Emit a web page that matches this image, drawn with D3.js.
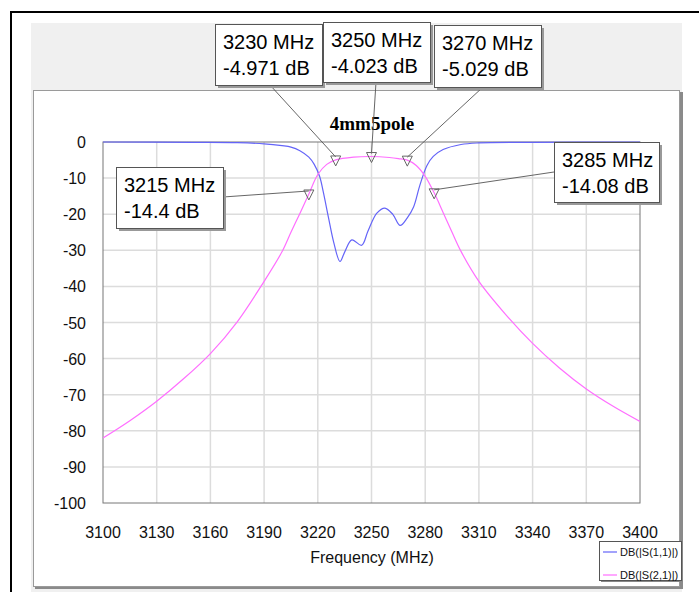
<!DOCTYPE html>
<meta charset="utf-8">
<html>
<head>
<style>
  body { margin: 0; background: #fff; }
  text { font-family: "Liberation Sans", Arial, sans-serif; }
</style>
</head>
<body>
<script src="https://d3js.org/d3.v7.min.js"></script>
<script type="text/javascript">
  // S11 trace (blue)
  var s11Freq = [3100, 3150, 3175, 3190, 3200, 3205, 3210, 3215, 3218, 3221, 3223, 3226, 3229, 3232.4, 3235, 3239,
                 3244.5, 3248, 3253, 3257.5, 3262, 3266, 3270, 3273.5, 3277, 3281, 3284.5, 3290, 3300, 3310, 3340, 3370, 3400];
  var s11dB = [0, -0.1, -0.2, -0.5, -1.0, -1.4, -2.4, -4.2, -6.2, -9.5, -13.7, -21, -28, -33.1, -30.5, -27.1,
               -28.6, -24.7, -19.7, -18.3, -20.1, -23.1, -21, -18, -12, -6.5, -4, -2.1, -0.7, -0.25, -0.08, -0.03, 0];

  // S21 trace (magenta)
  var s21Freq = [3100, 3115, 3130, 3145, 3160, 3175, 3190, 3200, 3205, 3210, 3215, 3220, 3225, 3230, 3240, 3250,
                 3260, 3265, 3270, 3275, 3280, 3285, 3290, 3295, 3300, 3310, 3325, 3340, 3355, 3370, 3385, 3400];
  var s21dB = [-82, -77.2, -71.8, -65.6, -58.6, -49.8, -38.6, -30.4, -25, -19.8, -14.4, -9, -6.2, -4.97, -4.2, -4.02,
               -4.3, -4.6, -5.03, -6.5, -9.5, -14.08, -19.5, -25, -30.3, -38.6, -47.8, -55.8, -62.6, -68.4, -73.2, -77.4];

  // markers on S21
  var markerFreq = [3230, 3250, 3270, 3215, 3285];
  var markerdB = ["-4.971", "-4.023", "-5.029", "-14.4", "-14.08"];

  var xTicks = [3100, 3130, 3160, 3190, 3220, 3250, 3280, 3310, 3340, 3370, 3400];
  var yTicks = [0, -10, -20, -30, -40, -50, -60, -70, -80, -90, -100];

  var seriesNames = ["DB(|S(1,1)|)", "DB(|S(2,1)|)"];
  var seriesColors = ["#6464f8", "#ff6eff"];

  var svg = d3.select("body").append("svg")
      .attr("width", 699).attr("height", 592);

  // outer frame
  svg.append("rect").attr("x", 31).attr("y", 23).attr("width", 651).attr("height", 569).attr("fill", "#f0f0f0");
  svg.append("path").attr("d", "M11,592V12H699").attr("fill", "none").attr("stroke", "#000").attr("stroke-width", 2);

  // white graph panel with shadow
  svg.append("rect").attr("x", 35).attr("y", 92).attr("width", 648).attr("height", 497).attr("fill", "#8a8a8a");
  svg.append("rect").attr("x", 33.5).attr("y", 90.5).attr("width", 646).attr("height", 496)
      .attr("fill", "#fff").attr("stroke", "#9a9a9a");

  var x = d3.scaleLinear().domain([3100, 3400]).range([103, 640]);
  var y = d3.scaleLinear().domain([-100, 0]).range([503, 142]);

  // grid
  svg.append("g").selectAll("line").data(xTicks.slice(1, -1)).enter().append("line")
      .attr("x1", function (d) { return x(d); }).attr("x2", function (d) { return x(d); })
      .attr("y1", y(0)).attr("y2", y(-100))
      .attr("stroke", "#dcdcdc").attr("stroke-width", 1.5);
  svg.append("g").selectAll("line").data(yTicks.slice(1, -1)).enter().append("line")
      .attr("y1", function (d) { return y(d); }).attr("y2", function (d) { return y(d); })
      .attr("x1", x(3100)).attr("x2", x(3400))
      .attr("stroke", "#dcdcdc").attr("stroke-width", 1.5);

  // plot frame
  svg.append("rect").attr("x", x(3100)).attr("y", y(0))
      .attr("width", x(3400) - x(3100)).attr("height", y(-100) - y(0))
      .attr("fill", "none").attr("stroke", "#777");

  // axis labels
  svg.append("g").selectAll("text").data(yTicks).enter().append("text")
      .attr("x", 86).attr("y", function (d) { return y(d) + 6; })
      .attr("text-anchor", "end").style("font-size", "16px").attr("fill", "#111")
      .text(function (d) { return d; });
  svg.append("g").selectAll("text").data(xTicks).enter().append("text")
      .attr("x", function (d) { return x(d); }).attr("y", 538)
      .attr("text-anchor", "middle").style("font-size", "16px").attr("fill", "#111")
      .text(function (d) { return d; });
  svg.append("text").attr("x", 372).attr("y", 563).attr("text-anchor", "middle")
      .style("font-size", "16px").attr("fill", "#111").text("Frequency (MHz)");

  // title
  svg.append("text").attr("x", 372).attr("y", 130).attr("text-anchor", "middle")
      .style("font-family", "'Liberation Serif', 'Times New Roman', serif")
      .style("font-size", "19px").style("font-weight", "bold").text("4mm5pole");

  // traces
  svg.append("clipPath").attr("id", "plotClip").append("rect")
      .attr("x", x(3100)).attr("y", y(0) - 1).attr("width", x(3400) - x(3100)).attr("height", y(-100) - y(0) + 1);
  var line = d3.line()
      .x(function (d) { return x(d[0]); })
      .y(function (d) { return y(d[1]); })
      .curve(d3.curveCatmullRom.alpha(0.5));
  var traces = [d3.zip(s11Freq, s11dB), d3.zip(s21Freq, s21dB)];
  svg.append("g").attr("clip-path", "url(#plotClip)").selectAll("path").data(traces).enter().append("path")
      .attr("d", line).attr("fill", "none")
      .attr("stroke", function (d, i) { return seriesColors[i]; }).attr("stroke-width", 1.2);

  // marker label boxes: [box x, box y, width, height, leader start x, leader start y]
  var boxes = [
    [215, 24, 107, 61, 270, 85],
    [323, 22, 107, 60, 376, 82],
    [434, 25, 107, 62, 483, 87],
    [116, 167, 107, 61, 223, 197],
    [554, 142, 105, 60, 554, 172]
  ];

  markerFreq.forEach(function (f, i) {
    var mx = x(f), my = y(+markerdB[i]);
    var b = boxes[i];
    // leader
    svg.append("line").attr("x1", b[4]).attr("y1", b[5]).attr("x2", mx).attr("y2", my - 3)
        .attr("stroke", "#555").attr("stroke-width", 0.9);
    // triangle marker
    svg.append("path")
        .attr("d", "M" + (mx - 5) + "," + (my - 4) + "L" + (mx + 5) + "," + (my - 4) + "L" + mx + "," + (my + 6) + "Z")
        .attr("fill", "none").attr("stroke", "#666").attr("stroke-width", 1);
    // box
    svg.append("rect").attr("x", b[0] + 3).attr("y", b[1] + 3).attr("width", b[2]).attr("height", b[3]).attr("fill", "#999");
    svg.append("rect").attr("x", b[0] + 0.5).attr("y", b[1] + 0.5).attr("width", b[2]).attr("height", b[3])
        .attr("fill", "#fff").attr("stroke", "#555");
    svg.append("text").attr("x", b[0] + 8).attr("y", b[1] + 25).style("font-size", "20px").attr("fill", "#000")
        .text(f + " MHz");
    svg.append("text").attr("x", b[0] + 8).attr("y", b[1] + 51).style("font-size", "20px").attr("fill", "#000")
        .text(markerdB[i] + " dB");
  });

  // legend
  svg.append("rect").attr("x", 601).attr("y", 543).attr("width", 82).attr("height", 39).attr("fill", "#888");
  svg.append("rect").attr("x", 599.5).attr("y", 541.5).attr("width", 82).attr("height", 39)
      .attr("fill", "#fff").attr("stroke", "#555");
  seriesNames.forEach(function (n, i) {
    var ly = 552 + i * 23;
    svg.append("line").attr("x1", 603).attr("x2", 617).attr("y1", ly).attr("y2", ly)
        .attr("stroke", seriesColors[i]).attr("stroke-width", 1.2);
    svg.append("text").attr("x", 620).attr("y", ly + 4).style("font-size", "11px").attr("fill", "#111").text(n);
  });
</script>
</body>
</html>
